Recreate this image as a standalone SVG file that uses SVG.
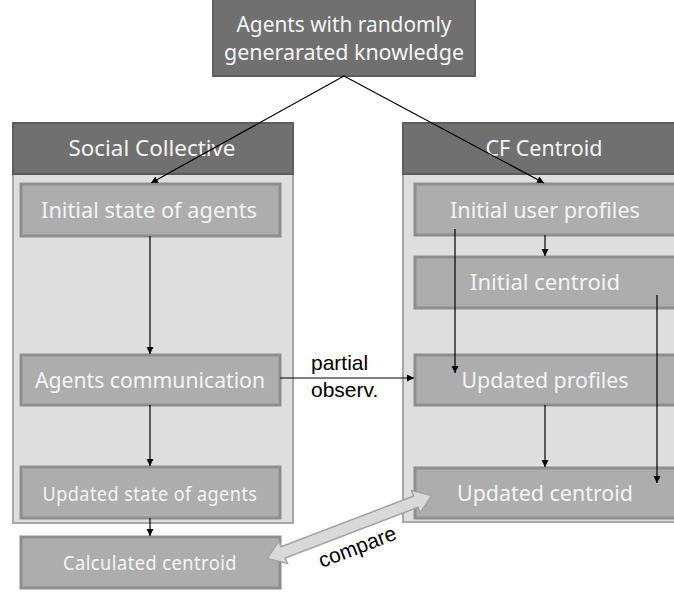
<svg xmlns="http://www.w3.org/2000/svg" width="674" height="592" viewBox="0 0 674 592">
<defs>
<marker id="ah" markerWidth="8" markerHeight="8" refX="7" refY="4" orient="auto" markerUnits="userSpaceOnUse">
<path d="M0,0.5 L7,4 L0,7.5 z" fill="#000"/>
</marker>
<style>
.hdr{fill:#707070;stroke:#5c5c5c;stroke-width:2}
.body{fill:#dedede;stroke:#a6a6a6;stroke-width:2}
.box{fill:#adadad;stroke:#8e8e8e;stroke-width:3}
.t{font-family:"Noto Sans","Open Sans",sans-serif;fill:#f4f4f4;text-anchor:middle}
.big{font-size:22px}
.sm{font-size:19px;letter-spacing:0.5px}
.ln{stroke:#000;stroke-width:1.2;fill:none}
.lbl{font-family:"Liberation Sans",Arial,sans-serif;font-size:21px;fill:#000}
</style>
</defs>
<rect width="674" height="592" fill="#fff"/>
<g id="top">
<rect x="213" y="-3" width="262" height="79" class="hdr"/>
<text x="344" y="32" class="t big" textLength="215" lengthAdjust="spacingAndGlyphs">Agents with randomly</text>
<text x="344" y="60" class="t big" textLength="240" lengthAdjust="spacingAndGlyphs">generarated knowledge</text>
</g>
<g id="social-collective">
<rect x="13" y="174" width="280" height="349" class="body"/>
<rect x="13" y="123" width="280" height="51" class="hdr"/>
<text x="152" y="156" class="t big" textLength="167" lengthAdjust="spacingAndGlyphs">Social Collective</text>
</g>
<g id="cf-centroid">
<rect x="403" y="174" width="276" height="348" class="body"/>
<rect x="403" y="123" width="276" height="51" class="hdr"/>
<text x="544" y="156" class="t big" textLength="117" lengthAdjust="spacingAndGlyphs">CF Centroid</text>
</g>
<g id="initial-state">
<rect x="21" y="184" width="259" height="52" class="box"/>
<text x="149" y="218" class="t big" textLength="216" lengthAdjust="spacingAndGlyphs">Initial state of agents</text>
</g>
<g id="agents-communication">
<rect x="21" y="355" width="259" height="50" class="box"/>
<text x="150" y="388" class="t big" textLength="230" lengthAdjust="spacingAndGlyphs">Agents communication</text>
</g>
<g id="updated-state">
<rect x="21" y="467" width="259" height="51" class="box"/>
<text x="150" y="501" class="t sm" textLength="215" lengthAdjust="spacingAndGlyphs">Updated state of agents</text>
</g>
<g id="calculated-centroid">
<rect x="21" y="537" width="259" height="51" class="box"/>
<text x="150" y="570" class="t sm" textLength="174" lengthAdjust="spacingAndGlyphs">Calculated centroid</text>
</g>
<g id="initial-user-profiles">
<rect x="415" y="184" width="264" height="51" class="box"/>
<text x="545" y="218" class="t big" textLength="190" lengthAdjust="spacingAndGlyphs">Initial user profiles</text>
</g>
<g id="initial-centroid">
<rect x="415" y="257" width="264" height="51" class="box"/>
<text x="545" y="290" class="t big" textLength="150" lengthAdjust="spacingAndGlyphs">Initial centroid</text>
</g>
<g id="updated-profiles">
<rect x="415" y="355" width="264" height="50" class="box"/>
<text x="545" y="388" class="t big" textLength="167" lengthAdjust="spacingAndGlyphs">Updated profiles</text>
</g>
<g id="updated-centroid">
<rect x="415" y="468" width="264" height="50" class="box"/>
<text x="545" y="501" class="t big" textLength="176" lengthAdjust="spacingAndGlyphs">Updated centroid</text>
</g>
<g id="connectors">
<line x1="344" y1="76" x2="151" y2="183" class="ln" marker-end="url(#ah)"/>
<line x1="344" y1="76" x2="544" y2="183" class="ln" marker-end="url(#ah)"/>
<line x1="150" y1="236" x2="150" y2="354" class="ln" marker-end="url(#ah)"/>
<line x1="150" y1="405" x2="150" y2="466" class="ln" marker-end="url(#ah)"/>
<line x1="150" y1="518" x2="150" y2="536" class="ln" marker-end="url(#ah)"/>
<line x1="280" y1="378" x2="414" y2="378" class="ln" marker-end="url(#ah)"/>
<line x1="545" y1="235" x2="545" y2="256" class="ln" marker-end="url(#ah)"/>
<line x1="455" y1="229" x2="455" y2="373" class="ln" marker-end="url(#ah)"/>
<line x1="545" y1="405" x2="545" y2="467" class="ln" marker-end="url(#ah)"/>
<line x1="657" y1="295" x2="657" y2="483" class="ln" marker-end="url(#ah)"/>
<g transform="translate(349.5,527) rotate(-20.9)">
<polygon points="-88,0 -71,-12 -71,-6 71,-6 71,-12 88,0 71,12 71,6 -71,6 -71,12" fill="#d9d9d9" stroke="#a3a3a3" stroke-width="1.5"/>
</g>
<text x="311" y="370" class="lbl">partial</text>
<text x="311" y="397" class="lbl">observ.</text>
<text x="357" y="554" class="lbl" text-anchor="middle" transform="rotate(-21 357 546)">compare</text>
</g>
</svg>
